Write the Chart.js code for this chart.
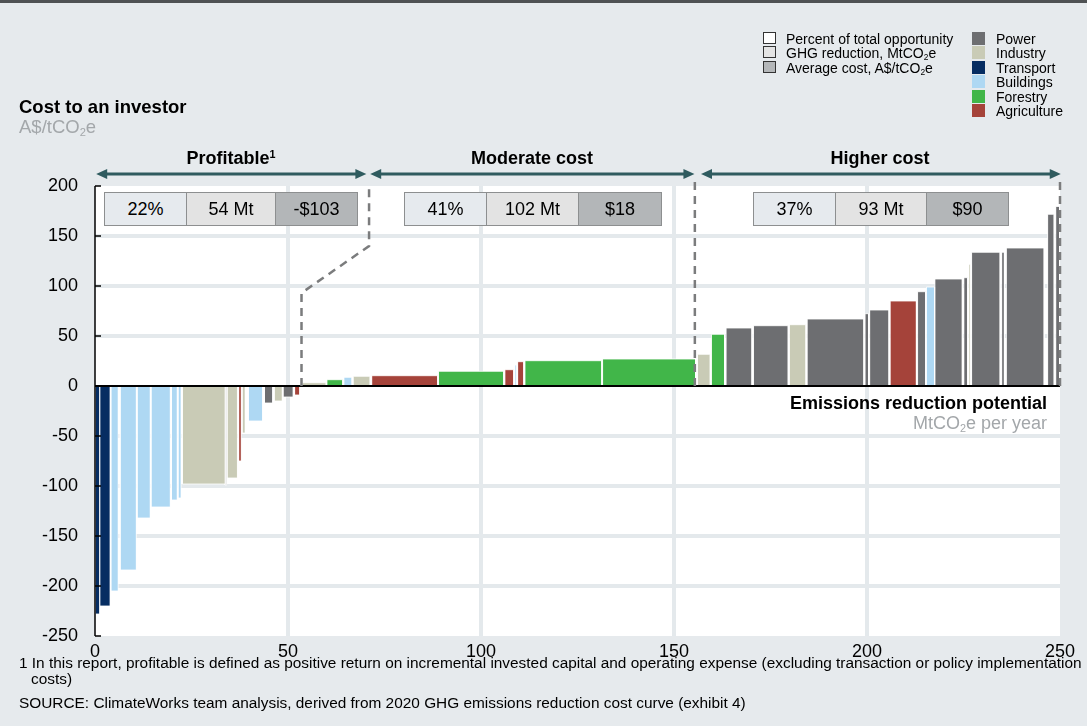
<!DOCTYPE html>
<html>
<head>
<meta charset="utf-8">
<script src="https://cdn.jsdelivr.net/npm/chart.js@4.4.1/dist/chart.umd.min.js"></script>
<style>
  html,body{margin:0;padding:0;}
  body{width:1087px;height:726px;background:#e6eaed;position:relative;overflow:hidden;font-family:"Liberation Sans",Arial,sans-serif;color:#000;}
  #c{position:absolute;left:0;top:0;}
  .t{position:absolute;white-space:nowrap;}
  .topline{position:absolute;left:0;top:0;width:1087px;height:3px;background:#4f5254;}
  .box{position:absolute;top:192px;height:34px;border:1.5px solid #8d8f90;box-sizing:border-box;display:flex;align-items:center;justify-content:center;font-size:18px;}
  .sw{position:absolute;width:13px;height:12px;box-sizing:border-box;}
  .lg{position:absolute;font-size:14px;line-height:14px;white-space:nowrap;}
  .fn{position:absolute;white-space:nowrap;font-size:15.4px;line-height:16px;}
  sub{font-size:0.6em;vertical-align:-0.25em;line-height:0;}
  sup{font-size:0.6em;vertical-align:0.55em;line-height:0;}
</style>
</head>
<body>
<div class="topline"></div>
<canvas id="c" width="1087" height="726"></canvas>

<div class="t" style="left:19px;top:98px;font-size:18.5px;line-height:18px;font-weight:bold;">Cost to an investor</div>
<div class="t" style="left:19px;top:118px;font-size:18.5px;line-height:18px;color:#a3a7aa;">A$/tCO<sub>2</sub>e</div>

<div class="t" style="left:231px;top:149px;font-size:18px;line-height:18px;font-weight:bold;transform:translateX(-50%);">Profitable<sup>1</sup></div>
<div class="t" style="left:532px;top:149px;font-size:18px;line-height:18px;font-weight:bold;transform:translateX(-50%);">Moderate cost</div>
<div class="t" style="left:880px;top:149px;font-size:18px;line-height:18px;font-weight:bold;transform:translateX(-50%);">Higher cost</div>

<div id="boxes"></div>

<div class="t" style="right:40px;top:394px;font-size:18px;line-height:18px;font-weight:bold;">Emissions reduction potential</div>
<div class="t" style="right:40px;top:414px;font-size:18px;line-height:18px;color:#a3a7aa;">MtCO<sub>2</sub>e per year</div>

<div class="sw" style="left:763px;top:32px;background:#ffffff;border:1px solid #333;"></div>
<div class="sw" style="left:763px;top:46px;background:#e4e4e4;border:1px solid #333;"></div>
<div class="sw" style="left:763px;top:61px;background:#b4b7b9;border:1px solid #333;"></div>
<div class="lg" style="left:786px;top:32px;">Percent of total opportunity</div>
<div class="lg" style="left:786px;top:46px;">GHG reduction, MtCO<sub>2</sub>e</div>
<div class="lg" style="left:786px;top:61px;">Average cost, A$/tCO<sub>2</sub>e</div>
<div id="legend2"></div>

<div class="fn" style="left:19px;top:655px;">1 In this report, profitable is defined as positive return on incremental invested capital and operating expense (excluding transaction or policy implementation</div>
<div class="fn" style="left:31px;top:671px;">costs)</div>
<div class="fn" style="left:19px;top:695px;">SOURCE: ClimateWorks team analysis, derived from 2020 GHG emissions reduction cost curve (exhibit 4)</div>

<script>
// ---- Data ----
const starts = [0,1.2,4.1,6.5,10.9,14.5,19.8,21.5,22.6,33.7,34.2,37.2,38.1,39.7,43.9,46.4,48.7,51.7,
  53.7,60.1,64.5,66.9,71.7,89.0,106.2,108.8,109.5,111.4,131.5,
  156.1,159.7,163.5,170.6,179.9,184.5,199.5,200.7,206.0,213.1,215.4,217.6,225.1,226.4,227.1,234.9,236.1,246.8,248.9];
const ends = [1.2,3.9,6.0,10.7,14.3,19.5,21.3,22.3,33.7,34.1,36.9,37.9,38.9,43.4,46.0,48.5,51.3,53.0,
  59.9,64.2,66.6,71.3,88.8,105.9,108.5,109.3,111.1,131.3,155.6,
  159.4,163.1,170.2,179.6,184.2,199.2,200.4,205.7,212.8,215.2,217.5,224.7,226.1,226.9,234.5,235.6,245.9,248.5,249.9];
const costs = [-228,-220,-205,-184,-132,-121,-114,-112,-98,-99,-92,-75,-47,-35,-17,-15,-11,-9,
  3.3,6.3,8.7,9.7,10.3,14.7,16.3,21,24.3,25.3,27,
  31.7,51.7,58,60.3,61.3,67,72.3,76,85,94.3,99,107,108.3,121.7,133.7,133.7,138,171.7,179.5];
const sectors = ['Transport','Transport','Buildings','Buildings','Buildings','Buildings','Buildings','Buildings','Industry','Power','Industry','Agriculture','Industry','Buildings','Power','Industry','Power','Agriculture',
  'Industry','Forestry','Buildings','Industry','Agriculture','Forestry','Agriculture','Buildings','Agriculture','Forestry','Forestry',
  'Industry','Forestry','Power','Power','Industry','Power','Power','Power','Agriculture','Power','Buildings','Power','Power','Industry','Power','Power','Power','Power','Power'];
const sectorNames = ['Power','Industry','Transport','Buildings','Forestry','Agriculture'];
const sectorColors = ['#6d6e71','#c9cbb6','#062d62','#aed8f3','#41b649','#a5433a'];

const xTicks = [0,50,100,150,200,250];
const yTicks = [200,150,100,50,0,-50,-100,-150,-200,-250];

const groupNames = ['Profitable','Moderate cost','Higher cost'];
const groupPercent = ['22%','41%','37%'];
const groupMt = ['54 Mt','102 Mt','93 Mt'];
const groupCost = ['-$103','$18','$90'];
const groupSpan = [[0.3,70.3],[71.3,155.3],[157.0,250.2]];
const separators = [
  [[53.5,0],[53.5,93],[71,140],[71,198]],
  [[155.4,0],[155.4,204]],
  [[250,0],[250,204]]
];

// ---- Annotation boxes ----
const boxCells = [[104,186,275,357],[404,486,578,661],[753,835,926,1008]];
const cellBg = ['#e6eaee','#e3e3e3','#b3b6b8'];
let bh = '';
boxCells.forEach((c,g)=>{
  const txt=[groupPercent[g],groupMt[g],groupCost[g]];
  for(let k=0;k<3;k++){
    bh += `<div class="box" style="left:${c[k]}px;width:${c[k+1]-c[k]+1}px;background:${cellBg[k]};">${txt[k]}</div>`;
  }
});
document.getElementById('boxes').innerHTML = bh;

let lh='';
const rowTop=[32,46,60.5,75,89.5,104];
sectorNames.forEach((n,i)=>{
  lh += `<div class="sw" style="left:972px;top:${rowTop[i]}px;height:13px;background:${sectorColors[i]};"></div>`;
  lh += `<div class="lg" style="left:996px;top:${rowTop[i]}px;">${n}</div>`;
});
document.getElementById('legend2').innerHTML = lh;

// ---- Chart ----
const colorOf = s => sectorColors[sectorNames.indexOf(s)];
const datasets = costs.map((v,i)=>({
  data:[{x:starts[i],y:0},{x:starts[i],y:v},{x:ends[i],y:v},{x:ends[i],y:0}],
  backgroundColor: colorOf(sectors[i]),
  borderColor:'rgba(255,255,255,0.8)',
  borderWidth:1,
  fill:'origin',
  pointRadius:0,
  tension:0
}));

const decor = {
  id:'decor',
  beforeDraw(chart){
    const {ctx,chartArea:a}=chart;
    ctx.save();
    ctx.fillStyle='#ffffff';
    ctx.fillRect(a.left,a.top,a.right-a.left,a.bottom-a.top);
    ctx.restore();
  },
  afterDatasetsDraw(chart){
    const {ctx,chartArea:a,scales:{x,y}}=chart;
    ctx.save();
    ctx.strokeStyle='#000'; ctx.lineWidth=2;
    ctx.beginPath(); ctx.moveTo(a.left,y.getPixelForValue(0)); ctx.lineTo(a.right,y.getPixelForValue(0)); ctx.stroke();
    ctx.lineWidth=1.5;
    ctx.beginPath(); ctx.moveTo(a.left,a.top); ctx.lineTo(a.left,a.bottom); ctx.stroke();
    yTicks.forEach(v=>{
      const py=y.getPixelForValue(v);
      ctx.beginPath(); ctx.moveTo(a.left,py); ctx.lineTo(a.left+6,py); ctx.stroke();
    });
    ctx.strokeStyle='#7b7c7d'; ctx.lineWidth=2.5; ctx.setLineDash([8,6]);
    separators.forEach(s=>{
      ctx.beginPath();
      s.forEach((p,i)=>{
        const px=x.getPixelForValue(p[0]), py=y.getPixelForValue(p[1]);
        if(i===0) ctx.moveTo(px,py); else ctx.lineTo(px,py);
      });
      ctx.stroke();
    });
    ctx.setLineDash([]);
    const ay=174;
    ctx.strokeStyle='#2f5b5f'; ctx.fillStyle='#2f5b5f'; ctx.lineWidth=3;
    groupSpan.forEach(sp=>{
      const x0=x.getPixelForValue(sp[0]), x1=x.getPixelForValue(sp[1]);
      ctx.beginPath(); ctx.moveTo(x0+6,ay); ctx.lineTo(x1-6,ay); ctx.stroke();
      ctx.beginPath(); ctx.moveTo(x0,ay); ctx.lineTo(x0+11,ay-5); ctx.lineTo(x0+11,ay+5); ctx.closePath(); ctx.fill();
      ctx.beginPath(); ctx.moveTo(x1,ay); ctx.lineTo(x1-11,ay-5); ctx.lineTo(x1-11,ay+5); ctx.closePath(); ctx.fill();
    });
    ctx.restore();
  }
};

new Chart(document.getElementById('c'),{
  type:'line',
  data:{datasets},
  plugins:[decor],
  options:{
    responsive:false,
    animation:false,
    events:[],
    layout:{padding:{top:186,right:27,left:0,bottom:0}},
    plugins:{legend:{display:false},tooltip:{enabled:false}},
    scales:{
      x:{
        type:'linear', min:0, max:250,
        afterBuildTicks(s){ s.ticks = xTicks.map(v=>({value:v})); },
        afterFit(s){ s.height = 90; },
        ticks:{font:{family:'"Liberation Sans", Arial, sans-serif',size:18},color:'#000',padding:5,maxRotation:0},
        grid:{drawTicks:false,lineWidth:4,color:c=>(c.tick && (c.tick.value===0||c.tick.value===250))?'rgba(0,0,0,0)':'#e4e9ec'},
        border:{display:false}
      },
      y:{
        type:'linear', min:-250, max:200,
        afterBuildTicks(s){ s.ticks = yTicks.map(v=>({value:v})); },
        afterFit(s){ s.width = 95; },
        ticks:{font:{family:'"Liberation Sans", Arial, sans-serif',size:18},color:'#000',padding:17},
        grid:{drawTicks:false,lineWidth:4,color:c=>(c.tick && (c.tick.value===0||c.tick.value===200||c.tick.value===-250))?'rgba(0,0,0,0)':'#e4e9ec'},
        border:{display:false}
      }
    }
  }
});
</script>
</body>
</html>
